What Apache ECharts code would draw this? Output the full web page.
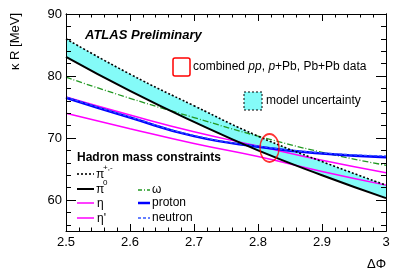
<!DOCTYPE html>
<html><head><meta charset="utf-8">
<script src="https://cdn.jsdelivr.net/npm/echarts@6/dist/echarts.min.js"></script>
<style>html,body{margin:0;padding:0;background:#fff}#c{width:407px;height:276px}</style>
</head><body><div id="c"></div>
<script>
// ---- data ----
const dphi      = [2.5, 2.6, 2.7, 2.8, 2.9, 3.0];
const piCharged = [86.0, 80.3, 75.2, 70.3, 66.2, 62.4];
const piNeutral = [83.1, 77.6, 72.6, 68.0, 64.0, 60.3];
const eta       = [76.6, 73.7, 71.0, 68.7, 66.4, 64.4];
const etaPrime  = [74.0, 71.5, 69.1, 67.0, 64.6, 62.4];
const omega     = [79.8, 76.4, 73.3, 70.3, 67.7, 65.6];
const proton    = [76.5, 73.3, 70.3, 68.6, 67.5, 66.9];
const neutron   = [76.6, 73.4, 70.4, 68.7, 67.6, 67.1];
const dataPoint = [2.818, 68.4];
const xTicks    = [2.5, 2.6, 2.7, 2.8, 2.9, 3.0];
const yMajor    = [60, 70, 80, 90];
const yMinor    = [56, 58, 62, 64, 66, 68, 72, 74, 76, 78, 82, 84, 86, 88];

const F = 'Liberation Sans, Arial, Helvetica, sans-serif';
const CYAN = '#84fbf8';
const pairs = arr => dphi.map((x, i) => [x, arr[i]]);

const chart = echarts.init(document.getElementById('c'), null, {renderer: 'canvas'});

const xBase = {
  type: 'value', min: 2.5, max: 3.0, interval: 0.1, z: 10,
  axisLine: {show: true, lineStyle: {color: '#000', width: 1}},
  axisTick: {show: true, inside: true, length: 7, lineStyle: {color: '#000'}},
  minorTick: {show: true, splitNumber: 5, length: 3.5, lineStyle: {color: '#000'}},
  splitLine: {show: false}, minorSplitLine: {show: false}
};
const yBase = {
  type: 'value', min: 55, max: 90, z: 10,
  axisLine: {show: true, lineStyle: {color: '#000', width: 1}},
  splitLine: {show: false}
};

const lineS = (name, arr, color, width, type, z) => ({
  name, type: 'line', data: pairs(arr), smooth: true, symbol: 'none',
  lineStyle: {color, width, type}, z: z || 3, silent: true
});

chart.setOption({
  animation: false,
  grid: {left: 66, right: 21, top: 14, bottom: 45, containLabel: false},
  xAxis: [
    Object.assign({}, xBase, {position: 'bottom',
      axisLabel: {show: true, color: '#000', fontSize: 13, fontFamily: F, margin: 5,
        formatter: v => (Math.abs(v - 3) < 1e-9 ? '3' : v.toFixed(1)),
        customValues: xTicks}}),
    Object.assign({}, xBase, {position: 'top', axisLabel: {show: false}})
  ],
  yAxis: [
    Object.assign({}, yBase, {position: 'left',
      axisTick: {show: true, inside: true, length: 10, customValues: yMajor, lineStyle: {color: '#000'}},
      axisLabel: {show: true, customValues: yMajor, color: '#000', fontSize: 13, fontFamily: F, margin: 4}}),
    Object.assign({}, yBase, {position: 'left',
      axisTick: {show: true, inside: true, length: 5, customValues: yMinor, lineStyle: {color: '#000'}},
      axisLabel: {show: false}}),
    Object.assign({}, yBase, {position: 'right',
      axisTick: {show: true, inside: true, length: 10, customValues: yMajor, lineStyle: {color: '#000'}},
      axisLabel: {show: false}}),
    Object.assign({}, yBase, {position: 'right',
      axisTick: {show: true, inside: true, length: 5, customValues: yMinor, lineStyle: {color: '#000'}},
      axisLabel: {show: false}})
  ],
  series: [
    // model-uncertainty band: cyan under the upper edge, white under the lower edge
    {type: 'line', data: pairs(piCharged), smooth: true, symbol: 'none',
     lineStyle: {opacity: 0}, areaStyle: {color: CYAN, opacity: 1, origin: 'start'}, silent: true, z: 1},
    {type: 'line', data: pairs(piNeutral), smooth: true, symbol: 'none',
     lineStyle: {opacity: 0}, areaStyle: {color: '#ffffff', opacity: 1, origin: 'start'}, silent: true, z: 1.5},
    lineS('eta', eta, '#ff00ff', 1.5, 'solid'),
    lineS('etaPrime', etaPrime, '#ff00ff', 1.5, 'solid'),
    lineS('omega', omega, '#229922', 1.3, [6, 2, 1, 2]),
    lineS('proton', proton, '#0000ff', 2.5, 'solid'),
    lineS('neutron', neutron, '#3355ff', 1.3, [3, 2], 4),
    lineS('piNeutral', piNeutral, '#000', 2, 'solid', 5),
    lineS('piCharged', piCharged, '#000', 1.6, [2, 2], 5),
    {type: 'scatter', data: [dataPoint], symbol: 'circle', symbolSize: [19, 28], silent: true, z: 6,
     itemStyle: {color: 'rgba(0,0,0,0)', borderColor: '#ff0000', borderWidth: 1.6}}
  ],
  graphic: {elements: [
    {type: 'text', x: 15, y: 13, rotation: Math.PI / 2, silent: true,
     style: {text: 'κ R [MeV]', fontSize: 13, fontFamily: F, fill: '#000', align: 'right', verticalAlign: 'middle'}},
    {type: 'text', x: 386, y: 264, silent: true,
     style: {text: 'ΔΦ', fontSize: 13, fontFamily: F, fill: '#000', align: 'right', verticalAlign: 'middle'}},
    {type: 'text', x: 85, y: 35, silent: true, z: 20,
     style: {text: 'ATLAS Preliminary', fontSize: 13, fontWeight: 'bold', fontStyle: 'italic', fontFamily: F, fill: '#000', verticalAlign: 'middle'}},
    {type: 'rect', shape: {x: 173, y: 58, width: 17, height: 18, r: 2}, silent: true, z: 20,
     style: {fill: 'none', stroke: '#ff0000', lineWidth: 1.5}},
    {type: 'text', x: 193, y: 67, silent: true, z: 20,
     style: {text: 'combined {i|pp}, {i|p}+Pb, Pb+Pb data', fontSize: 12, fontFamily: F, fill: '#000', verticalAlign: 'middle',
       rich: {i: {fontStyle: 'italic', fontSize: 12, fontFamily: F}}}},
    {type: 'rect', shape: {x: 244, y: 92, width: 18, height: 18}, silent: true, z: 20,
     style: {fill: CYAN, stroke: '#000', lineWidth: 1, lineDash: [2, 2]}},
    {type: 'text', x: 266, y: 101, silent: true, z: 20,
     style: {text: 'model uncertainty', fontSize: 12, fontFamily: F, fill: '#000', verticalAlign: 'middle'}},
    {type: 'text', x: 77, y: 158, silent: true, z: 20,
     style: {text: 'Hadron mass constraints', fontSize: 12, fontWeight: 'bold', fontFamily: F, fill: '#000', verticalAlign: 'middle'}},
    // column 1
    {type: 'line', shape: {x1: 77, y1: 174, x2: 94, y2: 174}, silent: true, z: 20, style: {stroke: '#000', lineWidth: 1.6, lineDash: [2, 2]}},
    {type: 'text', x: 96, y: 175, silent: true, z: 20, style: {text: 'π', fontSize: 12, fontFamily: F, fill: '#000', verticalAlign: 'middle'}},
    {type: 'text', x: 103, y: 168, silent: true, z: 20, style: {text: '+,-', fontSize: 8, fontFamily: F, fill: '#000', verticalAlign: 'middle'}},
    {type: 'line', shape: {x1: 77, y1: 189, x2: 94, y2: 189}, silent: true, z: 20, style: {stroke: '#000', lineWidth: 2}},
    {type: 'text', x: 96, y: 190, silent: true, z: 20, style: {text: 'π', fontSize: 12, fontFamily: F, fill: '#000', verticalAlign: 'middle'}},
    {type: 'text', x: 103, y: 183, silent: true, z: 20, style: {text: '0', fontSize: 8, fontFamily: F, fill: '#000', verticalAlign: 'middle'}},
    {type: 'line', shape: {x1: 77, y1: 203, x2: 94, y2: 203}, silent: true, z: 20, style: {stroke: '#ff00ff', lineWidth: 1.5}},
    {type: 'text', x: 97, y: 204, silent: true, z: 20, style: {text: 'η', fontSize: 12, fontFamily: F, fill: '#000', verticalAlign: 'middle'}},
    {type: 'line', shape: {x1: 77, y1: 218, x2: 94, y2: 218}, silent: true, z: 20, style: {stroke: '#ff00ff', lineWidth: 1.5}},
    {type: 'text', x: 97, y: 219, silent: true, z: 20, style: {text: 'η\'', fontSize: 12, fontFamily: F, fill: '#000', verticalAlign: 'middle'}},
    // column 2
    {type: 'line', shape: {x1: 138, y1: 190, x2: 150, y2: 190}, silent: true, z: 20, style: {stroke: '#229922', lineWidth: 1.3, lineDash: [4, 2, 1, 2]}},
    {type: 'text', x: 152, y: 190, silent: true, z: 20, style: {text: 'ω', fontSize: 12, fontFamily: F, fill: '#000', verticalAlign: 'middle'}},
    {type: 'line', shape: {x1: 138, y1: 203, x2: 150, y2: 203}, silent: true, z: 20, style: {stroke: '#0000ff', lineWidth: 2.5}},
    {type: 'text', x: 152, y: 203, silent: true, z: 20, style: {text: 'proton', fontSize: 12, fontFamily: F, fill: '#000', verticalAlign: 'middle'}},
    {type: 'line', shape: {x1: 138, y1: 218, x2: 150, y2: 218}, silent: true, z: 20, style: {stroke: '#3355ff', lineWidth: 1.3, lineDash: [3, 2]}},
    {type: 'text', x: 152, y: 218, silent: true, z: 20, style: {text: 'neutron', fontSize: 12, fontFamily: F, fill: '#000', verticalAlign: 'middle'}}
  ]}
});
</script>
</body></html>
